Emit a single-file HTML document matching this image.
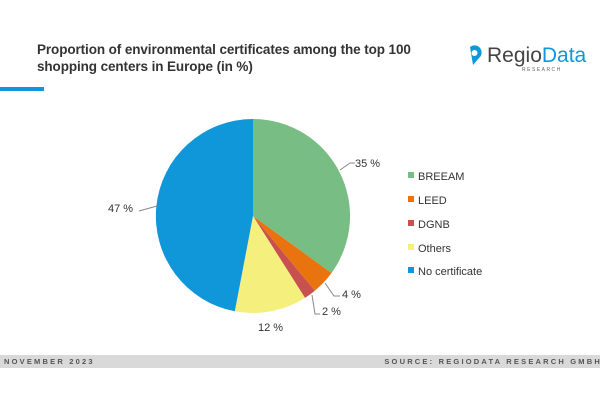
<!DOCTYPE html>
<html><head><meta charset="utf-8"><style>
body{margin:0;width:600px;height:400px;background:#fff;overflow:hidden;position:relative;font-family:"Liberation Sans",sans-serif}
.t{position:absolute;left:37px;top:41px;font-size:13.5px;line-height:17px;color:#333;font-weight:bold;letter-spacing:-0.1px}
.bar{position:absolute;left:0;top:87px;width:44px;height:4px;background:#0f97d9}
.foot{position:absolute;left:0;top:355px;width:600px;height:13px;background:#d9d9d9;font-size:7.5px;font-weight:bold;letter-spacing:2.2px;color:#555;line-height:13px}
</style></head><body>
<div class="t">Proportion of environmental certificates among the top 100<br>shopping centers in Europe (in %)</div>
<div class="bar"></div>
<svg style="position:absolute;left:0;top:0" width="600" height="400">
<path d="M470,47 a7,7 0 1 1 9,11 l-6,7 z" fill="#0f97d9"/>
<circle cx="474.5" cy="53" r="3" fill="#fff"/>
<text x="487" y="62" font-size="21" fill="#444" font-family="Liberation Sans,sans-serif">Regio<tspan fill="#0f97d9">Data</tspan></text>
<text x="522" y="71" font-size="5" fill="#666" letter-spacing="1.5" font-family="Liberation Sans,sans-serif">RESEARCH</text>
<g transform="translate(253,216)">
<path d="M0,0 L0,-97 A97,97 0 0 1 78.5,57 Z" fill="#77bd84"/>
<path d="M0,0 L78.5,57 A97,97 0 0 1 61.8,74.7 Z" fill="#e8730f"/>
<path d="M0,0 L61.8,74.7 A97,97 0 0 1 52,81.9 Z" fill="#c8504f"/>
<path d="M0,0 L52,81.9 A97,97 0 0 1 -18.2,95.3 Z" fill="#f5ef7e"/>
<path d="M0,0 L-18.2,95.3 A97,97 0 0 1 0,-97 Z" fill="#0f97d9"/>
</g>
<g stroke="#888" fill="none" stroke-width="1">
<polyline points="340,170 350,163 355,163"/>
<polyline points="325,283 334,296 340,296"/>
<polyline points="312,295 315,314 320,314"/>
<polyline points="139,211 157,206"/>
</g>
<g font-size="11" fill="#333" font-family="Liberation Sans,sans-serif">
<text x="355" y="167">35 %</text>
<text x="342" y="298">4 %</text>
<text x="322" y="315">2 %</text>
<text x="258" y="331">12 %</text>
<text x="108" y="212">47 %</text>
<rect x="408" y="172" width="6" height="6" fill="#77bd84" stroke="none"/><text x="418" y="180">BREEAM</text>
<rect x="408" y="196" width="6" height="6" fill="#e8730f"/><text x="418" y="204">LEED</text>
<rect x="408" y="220" width="6" height="6" fill="#c8504f"/><text x="418" y="228">DGNB</text>
<rect x="408" y="244" width="6" height="6" fill="#f5ef7e"/><text x="418" y="252">Others</text>
<rect x="408" y="267" width="6" height="6" fill="#0f97d9"/><text x="418" y="275">No certificate</text>
</g>
</svg>
<div class="foot"><span style="position:absolute;left:4px">NOVEMBER 2023</span><span style="position:absolute;right:-2px">SOURCE: REGIODATA RESEARCH GMBH</span></div>
</body></html>
